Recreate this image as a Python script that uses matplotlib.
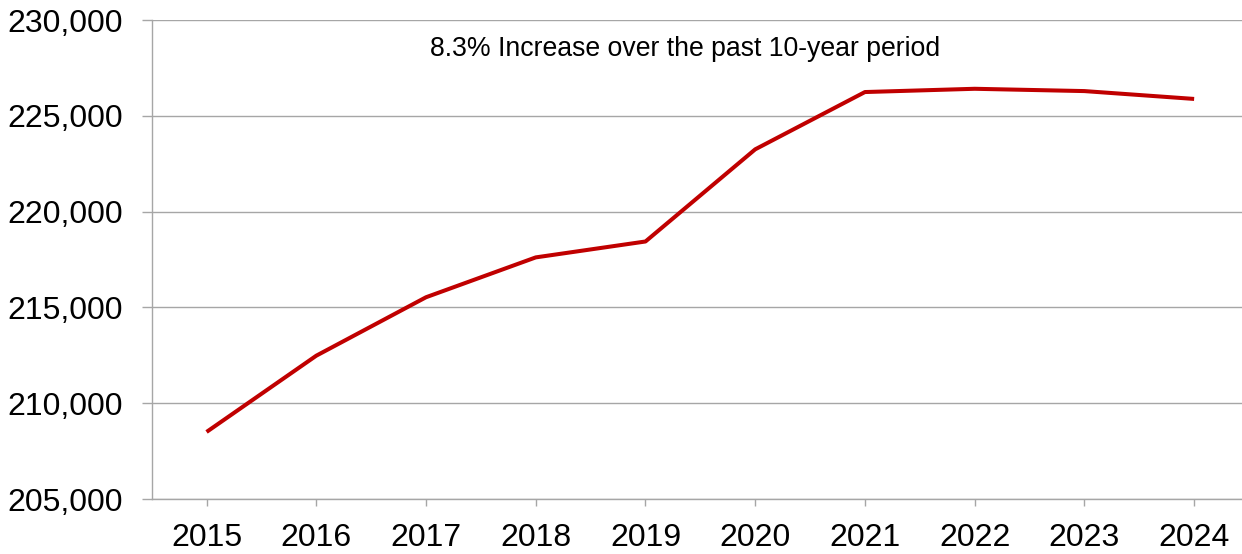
import matplotlib
matplotlib.use("Agg")
import matplotlib.pyplot as plt
from matplotlib.ticker import FuncFormatter

years = ["2015", "2016", "2017", "2018", "2019", "2020", "2021", "2022", "2023", "2024"]
values = [208500, 212480, 215530, 217610, 218440, 223250, 226240, 226410, 226290, 225880]
y_ticks = [205000, 210000, 215000, 220000, 225000, 230000]
note = "8.3% Increase over the past 10-year period"

plt.rcParams['font.family'] = ['Liberation Sans', 'DejaVu Sans']

fig = plt.figure(figsize=(12.42, 5.54), dpi=100)
ax = fig.add_axes([151.7/1242, 55/554, 1097.3/1242, 479/554])

x = list(range(len(years)))
ax.plot(x, values, color="#C00000", linewidth=2.9, solid_capstyle='butt', zorder=3)

ax.set_xlim(-0.5, len(years) - 0.5)
ax.set_ylim(205000, 230000)
ax.set_yticks(y_ticks)
ax.yaxis.set_major_formatter(FuncFormatter(lambda v, p: f"{int(v):,}"))
ax.set_xticks(x)
ax.set_xticklabels(years)

grid_c = "#A6A6A6"
ax.grid(axis='y', color=grid_c, linewidth=1.0)
ax.set_axisbelow(True)
for s in ['top', 'right']:
    ax.spines[s].set_visible(False)
for s in ['left', 'bottom']:
    ax.spines[s].set_color(grid_c)
    ax.spines[s].set_linewidth(1.0)

ax.tick_params(axis='y', length=7.2, width=1.0, color=grid_c, pad=13.8, labelsize=23, labelcolor='black')
ax.tick_params(axis='x', length=5.3, width=1.0, color=grid_c, pad=12, labelsize=23, labelcolor='black')

ax.text(2.04, 228480, note, ha='left', va='center', fontsize=19.2, color='black')

fig.savefig("out.png", dpi=100)
